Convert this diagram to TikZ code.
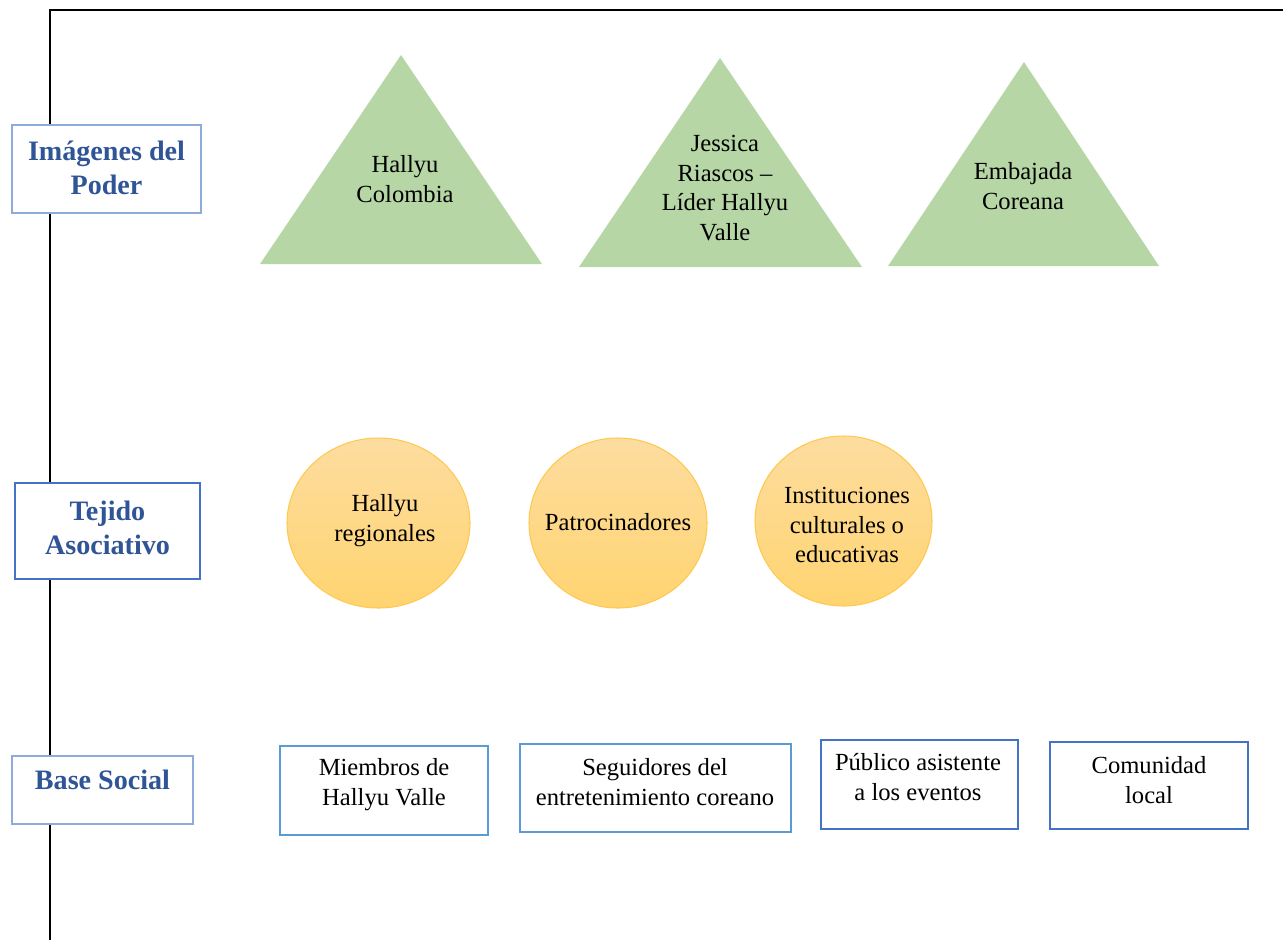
\documentclass[tikz,border=0pt]{standalone}
\usepackage{fontspec}
\setmainfont{Liberation Serif}
\usepackage{tikz}

\definecolor{nivelazul}{RGB}{47,85,151}
\definecolor{bordeclaro}{RGB}{143,170,220}
\definecolor{bordeoscuro}{RGB}{68,114,196}
\definecolor{bordecaja}{RGB}{91,155,213}
\definecolor{verdetri}{RGB}{182,214,166}
\definecolor{naranjaalto}{RGB}{253,221,160}
\definecolor{naranjabajo}{RGB}{255,212,112}
\definecolor{bordenaranja}{RGB}{255,200,80}

\tikzset{
  nivel/.style={draw=bordeclaro,line width=1pt,fill=white,minimum width=#1},
  nivel/.default=3.8cm,
  nivtxt/.style={font=\fontsize{16}{19}\selectfont\bfseries,text=nivelazul,align=center},
  txt/.style={font=\fontsize{14}{17}\selectfont,align=center,inner sep=0pt},
  tri/.style={fill=verdetri},
  circ/.style={draw=bordenaranja,line width=0.6pt,top color=naranjaalto,bottom color=naranjabajo},
  caja/.style={draw=bordecaja,line width=1pt}
}

\begin{document}
\begin{tikzpicture}[x=0.02cm,y=-0.02cm]
\useasboundingbox (0,0) rectangle (1283,940);
% ejes
\draw[line width=1.2pt] (50,940) -- (50,10) -- (1283,10);

% niveles
\node[nivel, minimum width=3.78cm, minimum height=1.76cm] (poder) at (106.5,169) {};
\node[nivtxt] (poderT) at (106.5,168) {Imágenes del\\Poder};
\node[nivel, draw=bordeoscuro, minimum width=3.7cm, minimum height=1.92cm] (tejido) at (107.5,531) {};
\node[nivtxt] (tejidoT) at (107.5,528) {Tejido\\Asociativo};
\node[nivel, minimum width=3.62cm, minimum height=1.36cm] (base) at (102.5,790) {};
\node[nivtxt] (baseT) at (102.5,780) {Base Social};

% imagenes del poder
\fill[tri] (260,264) -- (401,55) -- (542,264) -- cycle;
\fill[tri] (579,267) -- (720,58) -- (862,267) -- cycle;
\fill[tri] (888,266) -- (1024,62) -- (1159,266) -- cycle;
\node[txt] (hcol) at (405,179) {Hallyu\\Colombia};
\node[txt] (jess) at (725,188) {Jessica\\Riascos –\\Líder Hallyu\\Valle};
\node[txt] (emb) at (1023,186) {Embajada\\Coreana};

% tejido asociativo
\draw[circ] (378.5,523) ellipse (91.5 and 85);
\draw[circ] (618,523) ellipse (89 and 85);
\draw[circ] (843.5,521) ellipse (88.5 and 85);
\node[txt] (hreg) at (385,521) {Hallyu\\regionales};
\node[txt] (patro) at (618,522) {Patrocinadores};
\node[txt] (inst) at (847,525) {Instituciones\\culturales o\\educativas};

% base social
\node[caja, minimum width=4.16cm, minimum height=1.78cm] (miem) at (384,790.5) {};
\node[caja, minimum width=5.42cm, minimum height=1.76cm] (segu) at (655.5,788) {};
\node[caja, draw=bordeoscuro, minimum width=3.94cm, minimum height=1.78cm] (publ) at (919.5,784.5) {};
\node[caja, draw=bordeoscuro, minimum width=3.96cm, minimum height=1.74cm] (comu) at (1149,785.5) {};
\node[txt] (miemT) at (384,785) {Miembros de\\Hallyu Valle};
\node[txt] (seguT) at (655,782) {Seguidores del\\entretenimiento coreano};
\node[txt] (publT) at (918,777) {Público asistente\\a los eventos};
\node[txt] (comuT) at (1149,780) {Comunidad\\local};
\end{tikzpicture}
\end{document}
